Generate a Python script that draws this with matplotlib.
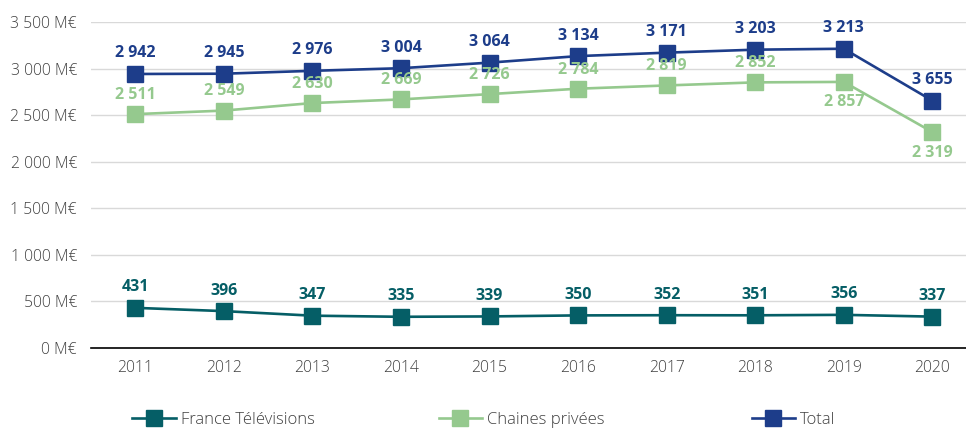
import matplotlib.pyplot as plt
from matplotlib.lines import Line2D

years = ['2011', '2012', '2013', '2014', '2015', '2016', '2017', '2018', '2019', '2020']
ftv = [431, 396, 347, 335, 339, 350, 352, 351, 356, 337]
privees = [2511, 2549, 2630, 2669, 2726, 2784, 2819, 2852, 2857, 2319]
total = [2942, 2945, 2976, 3004, 3064, 3134, 3171, 3203, 3213, 2656]
# labels as printed on the original chart (last total label reads "3 655")
total_labels = ['2 942', '2 945', '2 976', '3 004', '3 064', '3 134', '3 171', '3 203', '3 213', '3 655']
privees_below = [False] * 8 + [True, True]

c_ftv = '#055E66'
c_priv = '#95C98E'
c_total = '#1D3D8A'
c_text = '#404040'

plt.rcParams['font.family'] = ['Open Sans', 'DejaVu Sans']

fig = plt.figure(figsize=(9.66, 4.30), dpi=100)
ax = fig.add_axes([0.0942, 0.1907, 0.9058, 0.7581])

x = list(range(len(years)))
for vals, col in [(ftv, c_ftv), (privees, c_priv), (total, c_total)]:
    ax.plot(x, vals, color=col, lw=1.9, marker='s', ms=11.5, zorder=3)

def fmt(v):
    return '{:,}'.format(v).replace(',', ' ')

lab = dict(textcoords='offset points', ha='center', fontsize=11.5, fontweight='bold')
for i in x:
    ax.annotate(fmt(ftv[i]), (i, ftv[i]), xytext=(0, 9), va='bottom', color=c_ftv, **lab)
    ax.annotate(total_labels[i], (i, total[i]), xytext=(0, 9), va='bottom', color=c_total, **lab)
    if privees_below[i]:
        ax.annotate(fmt(privees[i]), (i, privees[i]), xytext=(0, -9), va='top', color=c_priv, **lab)
    else:
        ax.annotate(fmt(privees[i]), (i, privees[i]), xytext=(0, 8), va='bottom', color=c_priv, **lab)

ax.set_xlim(-0.5, 9.38)
ax.set_ylim(0, 3500)
ax.set_xticks(x)
ax.set_xticklabels(years, fontweight='light')
yt = list(range(0, 3501, 500))
ax.set_yticks(yt)
ax.set_yticklabels([fmt(v) + ' M€' for v in yt], fontweight='light')
ax.tick_params(length=0, labelsize=11.3, colors=c_text, pad=10)
ax.tick_params(axis='x', pad=9)
ax.grid(axis='y', color='#D9D9D9', lw=1)
ax.set_axisbelow(True)
for s in ['top', 'right', 'left']:
    ax.spines[s].set_visible(False)
ax.spines['bottom'].set_color('#000000')
ax.spines['bottom'].set_linewidth(1.2)
ax.spines['bottom'].set_zorder(2)

for name, col, xpos in [('France Télévisions', c_ftv, 0.137),
                        ('Chaines privées', c_priv, 0.454),
                        ('Total', c_total, 0.778)]:
    h = Line2D([], [], color=col, lw=1.9, marker='s', ms=11.5)
    fig.legend([h], [name], loc='center left', bbox_to_anchor=(xpos, 0.023),
               frameon=False, prop={'size': 12, 'weight': 'light'}, handlelength=2.6,
               handletextpad=0.3, labelcolor=c_text, borderpad=0, borderaxespad=0)

fig.savefig('out.png', dpi=100)
